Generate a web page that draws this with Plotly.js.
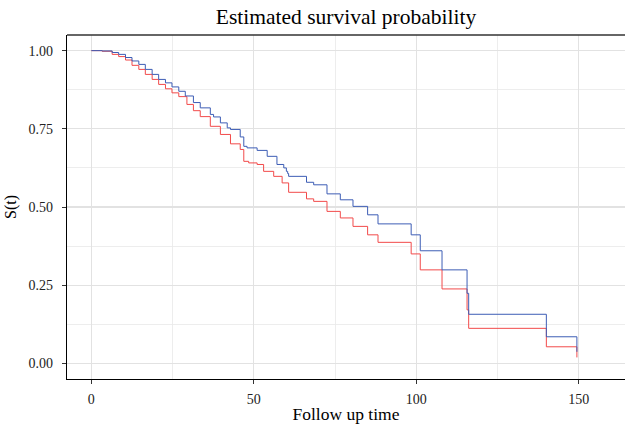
<!DOCTYPE html>
<html>
<head>
<meta charset="utf-8">
<script src="https://cdn.plot.ly/plotly-3.0.1.min.js"></script>
<style>html,body{margin:0;padding:0;background:#fff;}#chart{width:625px;height:424px;}</style>
</head>
<body>
<div id="chart"></div>
<script>
// Group 1 (blue) Kaplan-Meier estimate
var timeBlue = [0, 3.3, 6.4, 8.4, 10.5, 12.5, 14.6, 16.6, 18.7, 20.7, 22.8, 24.8, 26.9, 28.9, 31.4, 33.5, 36.6, 37.6, 39.7, 41.8, 42.8, 45.8, 46.9, 47.9, 51.0, 54.1, 57.1, 59.2, 60.0, 60.4, 60.7, 66.2, 68.4, 72.5, 76.6, 80.5, 85.0, 88.2, 98.4, 101.2, 107.9, 115.6, 116.1, 140.0, 149.4];
var survBlue = [1.0, 0.999, 0.994, 0.988, 0.978, 0.967, 0.956, 0.940, 0.924, 0.908, 0.897, 0.884, 0.870, 0.855, 0.834, 0.817, 0.796, 0.788, 0.769, 0.753, 0.748, 0.724, 0.694, 0.689, 0.681, 0.662, 0.636, 0.625, 0.614, 0.607, 0.598, 0.579, 0.571, 0.542, 0.523, 0.502, 0.475, 0.446, 0.411, 0.360, 0.299, 0.224, 0.157, 0.085, 0.037];
// Group 2 (red) Kaplan-Meier estimate
var timeRed = [0, 3.3, 6.4, 8.4, 10.5, 12.5, 14.6, 16.6, 18.7, 20.7, 22.8, 24.8, 26.9, 29.4, 31.4, 33.5, 36.6, 39.7, 42.8, 45.8, 46.9, 48.4, 51.0, 53.0, 56.1, 58.7, 60.7, 66.2, 68.4, 72.5, 76.6, 80.5, 85.0, 88.2, 98.4, 101.2, 107.9, 115.6, 116.1, 140.0, 149.4];
var survRed = [1.0, 0.998, 0.988, 0.981, 0.970, 0.953, 0.940, 0.924, 0.908, 0.892, 0.878, 0.865, 0.853, 0.828, 0.808, 0.789, 0.758, 0.732, 0.702, 0.684, 0.646, 0.641, 0.636, 0.614, 0.598, 0.577, 0.547, 0.526, 0.518, 0.486, 0.465, 0.438, 0.411, 0.387, 0.350, 0.299, 0.238, 0.171, 0.112, 0.053, 0.019];
var xTicks = [0, 50, 100, 150];
var yTicks = [0, 0.25, 0.5, 0.75, 1];
var yTickLabels = ['0.00', '0.25', '0.50', '0.75', '1.00'];

var font = 'Liberation Serif, Times New Roman, serif';
var traces = [
  {x: timeRed, y: survRed, type: 'scatter', mode: 'lines', line: {shape: 'hv', color: '#f24a4a', width: 1}, hoverinfo: 'skip'},
  {x: timeBlue, y: survBlue, type: 'scatter', mode: 'lines', line: {shape: 'hv', color: '#3d5db5', width: 1}, hoverinfo: 'skip'}
];
var layout = {
  width: 625, height: 424,
  margin: {l: 67, r: 0, t: 35.4, b: 45.4},
  paper_bgcolor: '#fff', plot_bgcolor: '#fff',
  showlegend: false,
  font: {family: font, color: '#1a1a1a'},
  title: {text: 'Estimated survival probability', font: {family: font, size: 21.5, color: '#000'}, x: 0.5, xref: 'paper', y: 0.962, yref: 'container', yanchor: 'middle'},
  xaxis: {
    range: [-7.5, 164.2], tickvals: xTicks, ticktext: xTicks.map(String),
    showgrid: true, gridcolor: '#e2e2e2', gridwidth: 1.2,
    minor: {dtick: 25, tick0: 0, showgrid: true, gridcolor: '#e9e9e9', gridwidth: 0.8},
    zeroline: false, showline: true, linecolor: '#000', linewidth: 1.2,
    ticks: 'outside', ticklen: 4, tickcolor: '#333', tickwidth: 1,
    ticklabelstandoff: 3,
    tickfont: {family: font, size: 14, color: '#222'},
    title: {text: 'Follow up time', font: {family: font, size: 17.5, color: '#000'}, standoff: 3}
  },
  yaxis: {
    range: [-0.05, 1.05], tickvals: yTicks, ticktext: yTickLabels,
    showgrid: true, gridcolor: '#e2e2e2', gridwidth: 1.2,
    minor: {dtick: 0.125, tick0: 0, showgrid: true, gridcolor: '#e9e9e9', gridwidth: 0.8},
    zeroline: false, showline: true, linecolor: '#000', linewidth: 1.2,
    ticks: 'outside', ticklen: 4, tickcolor: '#333', tickwidth: 1,
    ticklabelstandoff: 6,
    tickfont: {family: font, size: 14, color: '#222'},
    title: {text: 'S(t)', font: {family: font, size: 16, color: '#000'}, standoff: 8}
  },
  shapes: [
    {type: 'line', xref: 'paper', yref: 'paper', x0: 0, x1: 1, y0: 1, y1: 1, line: {color: '#333', width: 1.5}}
  ]
};
Plotly.newPlot('chart', traces, layout, {staticPlot: true, displayModeBar: false});
</script>
</body>
</html>
